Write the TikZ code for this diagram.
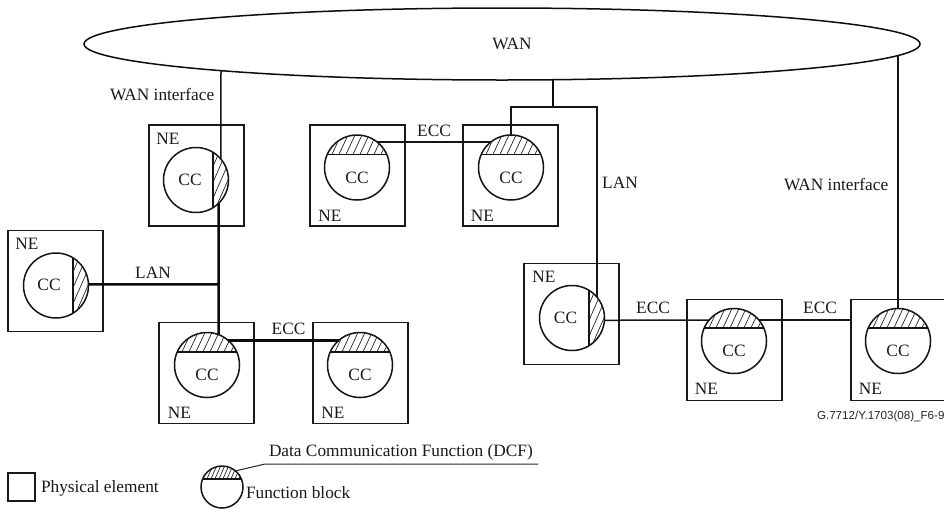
\documentclass[tikz,border=0pt]{standalone}
\usepackage{fontspec}
\setmainfont{Liberation Serif}
\newfontfamily\codefont{Liberation Sans}
\usetikzlibrary{shapes.geometric}
\tikzset{
  x=1pt,y=-1pt,
  lbl/.style={font=\fontsize{17.3}{20}\selectfont,inner sep=0pt,outer sep=0pt,text=black!90,anchor=base},
  nebox/.style={draw=black!90,line width=1.6pt,rectangle,minimum width=95pt,minimum height=101pt,inner sep=0pt,outer sep=0pt},
  ccnode/.style={draw=black!92,line width=1.5pt,circle,minimum size=65pt,inner sep=0pt,outer sep=0pt},
  chord/.style={draw=black!92,line width=1.6pt},
  hatchline/.style={draw=black!85,line width=0.7pt},
  thinlink/.style={draw=black!92,line width=1.5pt},
  thicklink/.style={draw=black!95,line width=2.5pt},
}
% #1 id, #2 box centre x, #3 box centre y, #4 circle x, #5 circle y
\newcommand\placeNE[5]{%
  \node[nebox] (b#1) at (#2,#3) {};
  \node[ccnode] (c#1) at (#4,#5) {};
}
% horizontal chord: #1 centre x, #2 centre y, #3 chord y
\newcommand\hatchTop[3]{%
  \begin{scope}
    \clip (#1,#2) circle[radius=32.5];
    \begin{scope}
      \clip ({#1-34},#3) rectangle ({#1+34},{#2-34});
      \foreach \s in {-49,-42,...,49} {
        \draw[hatchline] ({#1+\s-5},{#3+2}) -- ++(13,-28);
      }
    \end{scope}
    \draw[chord] ({#1-34},#3) -- ({#1+34},#3);
  \end{scope}
}
% vertical chord: #1 centre x, #2 centre y, #3 chord x
\newcommand\hatchSide[3]{%
  \begin{scope}
    \clip (#1,#2) circle[radius=32.5];
    \begin{scope}
      \clip (#3,{#2-34}) rectangle ({#1+34},{#2+34});
      \foreach \s in {-35,-28,...,14} {
        \draw[hatchline] ({#3+\s},{#2+34}) -- ++(30,-68);
      }
    \end{scope}
    \draw[chord] (#3,{#2-34}) -- (#3,{#2+34});
  \end{scope}
}
\begin{document}
\begin{tikzpicture}
\clip (0,0) rectangle (944,509);
\fill[white] (0,0) rectangle (944,509);

% WAN
\node[draw=black!95,line width=1.5pt,ellipse,minimum width=836pt,minimum height=72pt,inner sep=0pt,outer sep=0pt] (wan) at (502,44) {};
\node[lbl] (wantext) at (512,49.5) {WAN};

% Network elements
\placeNE{1}{196.5}{175.5}{196}{180}
\placeNE{2}{55.5}{281}{56}{285.5}
\placeNE{3}{206.5}{373}{207}{365}
\placeNE{4}{360.5}{373}{360}{365}
\placeNE{5}{357.5}{175.5}{357}{167.5}
\placeNE{6}{510.5}{175.5}{511}{167.5}
\placeNE{7}{571.5}{314}{572}{318}
\placeNE{8}{734.5}{350}{734}{341}
\placeNE{9}{898.5}{350}{898}{341}

\hatchSide{196}{180}{213}
\hatchSide{56}{285.5}{73}
\hatchSide{572}{318}{589}
\hatchTop{207}{365}{352}
\hatchTop{360}{365}{352}
\hatchTop{357}{167.5}{154.5}
\hatchTop{511}{167.5}{154.5}
\hatchTop{734}{341}{328}
\hatchTop{898}{341}{328}

% CC labels
\node[lbl] (cc1) at (190,185) {CC};
\node[lbl] (cc2) at (49,290.5) {CC};
\node[lbl] (cc3) at (207,380.5) {CC};
\node[lbl] (cc4) at (360,380.5) {CC};
\node[lbl] (cc5) at (357,183) {CC};
\node[lbl] (cc6) at (511,183) {CC};
\node[lbl] (cc7) at (565.5,323.5) {CC};
\node[lbl] (cc8) at (734,356.5) {CC};
\node[lbl] (cc9) at (898,356.5) {CC};

% NE labels
\node[lbl] (ne1) at (168,144) {NE};
\node[lbl] (ne2) at (27,249) {NE};
\node[lbl] (ne3) at (179.5,418.5) {NE};
\node[lbl] (ne4) at (333,418.5) {NE};
\node[lbl] (ne5) at (330,221) {NE};
\node[lbl] (ne6) at (482.5,221) {NE};
\node[lbl] (ne7) at (544,282) {NE};
\node[lbl] (ne8) at (706.5,394.5) {NE};
\node[lbl] (ne9) at (870.5,394.5) {NE};

% Connector ends
\coordinate (wl) at (221,70.6);
\coordinate (wm) at (553,79.7);
\coordinate (wr) at (898,55.8);
\coordinate (jt) at (553,107);
\coordinate (jl) at (218.7,284.3);

% Links
\draw[thinlink] (wl) -- (c1.40);
\draw[thicklink] (c1.-46) -- (c3.69);
\draw[thicklink] (c2.2.5) -- (jl);
\draw[thicklink] (c3.49) -- (c4.131);
\draw[thinlink] (c5.51) -- (c6.129);
\draw[thicklink] (wm) -- (jt);
\draw[thinlink] (c6.90) |- (jt) -| (c7.40);
\draw[thinlink] (c7.-4) -- (c8.140);
\draw[thinlink] (c8.40) -- (c8.40 -| b9.west);
\draw[thinlink] (wr) -- (c9.90);

% Link labels
\node[lbl,anchor=base west] (lw1) at (110,100.7) {WAN interface};
\node[lbl,anchor=base west] (lw2) at (784,190) {WAN interface};
\node[lbl] (ll1) at (153,278.7) {LAN};
\node[lbl] (ll2) at (620,188.7) {LAN};
\node[lbl] (le1) at (434,136.7) {ECC};
\node[lbl] (le2) at (288.5,334.7) {ECC};
\node[lbl] (le3) at (653,313.7) {ECC};
\node[lbl] (le4) at (820,313.7) {ECC};

% Code
\node[inner sep=0pt,outer sep=0pt,anchor=base west,font=\codefont\fontsize{11.6}{14}\selectfont,text=black!85] (code) at (817,419) {G.7712/Y.1703(08)\_F6-9};

% Legend
\node[draw=black!90,line width=1.5pt,rectangle,minimum width=27pt,minimum height=28pt,inner sep=0pt,outer sep=0pt] (lsq) at (21.5,487) {};
\node[lbl,anchor=base west] (lsqt) at (41,492) {Physical element};
\node[draw=black!92,line width=1.5pt,circle,minimum size=42pt,inner sep=0pt,outer sep=0pt] (lcc) at (222,487) {};
\begin{scope}
  \clip (lcc.center) circle[radius=21];
  \begin{scope}
    \clip (200,479) rectangle (244,464);
    \foreach \s in {-24,-20,...,24} {
      \draw[hatchline] (222+\s-4,481) -- ++(8,-18);
    }
  \end{scope}
  \draw[chord] (200,479) -- (244,479);
\end{scope}
\coordinate (lk) at (265,464);
\coordinate (lz) at (538,464);
\draw[draw=black!85,line width=1pt] (lcc.50) -- (lk) -- (lz);
\node[lbl,anchor=base west] (ldcf) at (269,456) {Data Communication Function (DCF)};
\node[lbl,anchor=base west] (lfb) at (246,498) {Function block};
\end{tikzpicture}
\end{document}
